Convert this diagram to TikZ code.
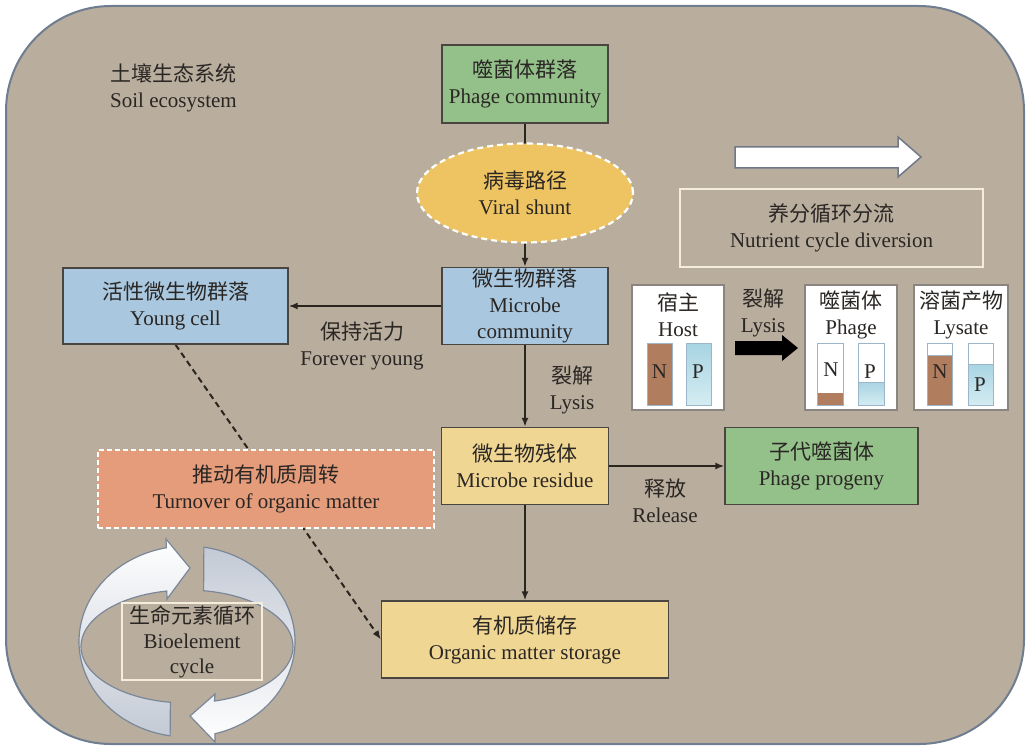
\documentclass[tikz,border=0pt]{standalone}
\usepackage{fontspec}
\setmainfont{Liberation Serif}
\newfontfamily\cjk{Noto Sans CJK SC}
\usetikzlibrary{shapes.geometric,arrows.meta}
\newcommand\zhtxt[1]{{\cjk #1}}
\definecolor{bgc}{HTML}{B9AD9D}
\definecolor{bgborder}{HTML}{6E7D90}
\definecolor{txt}{HTML}{2A2624}
\definecolor{bordc}{HTML}{4A4540}
\definecolor{linec}{HTML}{2B2520}
\definecolor{greenc}{HTML}{94C08A}
\definecolor{bluec}{HTML}{A9C8DF}
\definecolor{yellowc}{HTML}{F0D693}
\definecolor{salmonc}{HTML}{E49C7A}
\definecolor{ellc}{HTML}{EEC462}
\definecolor{creamc}{HTML}{F5EEDC}
\definecolor{brownc}{HTML}{B07E5E}
\definecolor{barblue}{HTML}{A8D4E2}
\definecolor{barblue2}{HTML}{D4ECF2}
\definecolor{barb}{HTML}{9DB5C8}
\definecolor{panelb}{HTML}{8A8580}
\definecolor{cycc}{HTML}{C3CAD5}
\definecolor{cycb}{HTML}{7A8799}
\definecolor{warrow}{HTML}{707888}
\pgfdeclarelayer{back}
\pgfdeclarelayer{lines}
\pgfsetlayers{back,lines,main}
\begin{document}
\begin{tikzpicture}[x=1pt,y=-1pt,
  font=\fontsize{21}{26}\selectfont, text=txt,
  box/.style={draw=bordc, line width=1.3pt, align=center, inner sep=0pt},
  conn/.style={draw=linec, line width=1.8pt, -{Latex[length=9pt,width=7pt]}},
  lbl/.style={align=center, inner sep=0pt},
  panel/.style={draw=panelb, line width=1.8pt, fill=white},
  barframe/.style={draw=barb, line width=1pt},
  blueshade/.style={top color=barblue, bottom color=barblue2}]
\useasboundingbox (0,0) rectangle (1027,746);
\begin{pgfonlayer}{back}
  \draw[fill=bgc, draw=bgborder, line width=2pt, rounded corners=105pt] (6,6) rectangle (1024,744);
\end{pgfonlayer}

% title
\node[lbl, align=left, anchor=west] (soil) at (110,88) {\zhtxt{土壤生态系统}\\Soil ecosystem};

% main nodes
\node[box, fill=greenc, minimum width=166pt, minimum height=78pt] (phage) at (525,84) {\zhtxt{噬菌体群落}\\Phage community};
\node[ellipse, draw=white, dashed, dash pattern=on 6pt off 4pt, line width=2.2pt, fill=ellc, minimum width=216pt, minimum height=99pt, align=center, inner sep=0pt] (viral) at (525,193) {\zhtxt{病毒路径}\\Viral shunt};
\node[box, fill=bluec, minimum width=166pt, minimum height=77pt] (microbe) at (525,306) {\zhtxt{微生物群落}\\Microbe\\community};
\node[box, fill=bluec, minimum width=225pt, minimum height=76pt] (young) at (175.5,306) {\zhtxt{活性微生物群落}\\Young cell};
\node[box, fill=yellowc, minimum width=167pt, minimum height=77pt] (residue) at (525,466) {\zhtxt{微生物残体}\\Microbe residue};
\node[box, fill=greenc, minimum width=193pt, minimum height=77pt] (progeny) at (821.5,466) {\zhtxt{子代噬菌体}\\Phage progeny};
\node[box, draw=white, dashed, dash pattern=on 5pt off 3pt, line width=2pt, fill=salmonc, minimum width=336pt, minimum height=78pt] (turnover) at (266,489) {\zhtxt{推动有机质周转}\\Turnover of organic matter};
\node[box, fill=yellowc, minimum width=287pt, minimum height=77pt] (storage) at (525,639.5) {\zhtxt{有机质储存}\\Organic matter storage};

% labels
\node[lbl] (forever) at (362,346) {\zhtxt{保持活力}\\Forever young};
\node[lbl] (lysis) at (572,390) {\zhtxt{裂解}\\Lysis};
\node[lbl] (release) at (665,500.5) {\zhtxt{释放}\\Release};

% connectors
\begin{pgfonlayer}{lines}
  \draw[conn] (phage.south) -- (microbe.north);
  \draw[conn] (microbe.west) -- (young.east);
  \draw[conn] (microbe.south) -- (residue.north);
  \draw[conn] (residue.east) -- (progeny.west);
  \draw[conn] (residue.south) -- (storage.north);
  \draw[conn, dash pattern=on 6pt off 4pt, line width=2pt] (young.south) -- (storage.west);
\end{pgfonlayer}

% nutrient cycle diversion
\draw[fill=white, draw=warrow, line width=1.5pt] (735,147) -- (898,147) -- (898,137) -- (921,157) -- (898,177) -- (898,168) -- (735,168) -- cycle;
\node[box, draw=creamc, line width=2pt, minimum width=303pt, minimum height=78pt] (nutrient) at (831.5,228) {\zhtxt{养分循环分流}\\Nutrient cycle diversion};

% lysis panel
\draw[panel] (632,285) rectangle (724,410);
\draw[panel] (805,285) rectangle (897,410);
\draw[panel] (914,285) rectangle (1008,410);
\node[lbl] (host) at (678,314.5) {\zhtxt{宿主}\\Host};
\node[lbl] (phg) at (851,314.5) {\zhtxt{噬菌体}\\Phage};
\node[lbl] (lysate) at (961,314.5) {\zhtxt{溶菌产物}\\Lysate};
\node[lbl] (lysis2) at (763,312.5) {\zhtxt{裂解}\\Lysis};
\fill[black] (735,341) -- (782,341) -- (782,335) -- (798,348) -- (782,361) -- (782,355) -- (735,355) -- cycle;
% host bars
\fill[brownc] (647,343) rectangle (672,405);
\draw[barframe] (647,343) rectangle (672,405);
\shade[blueshade] (686,343) rectangle (711,405);
\draw[barframe] (686,343) rectangle (711,405);
% phage bars
\fill[white] (817,343) rectangle (843,405);
\fill[brownc] (817,393) rectangle (843,405);
\draw[barframe] (817,343) rectangle (843,405);
\fill[white] (858,343) rectangle (884,405);
\shade[blueshade] (858,382) rectangle (884,405);
\draw[barframe] (858,343) rectangle (884,405);
\draw[barb, line width=1pt] (858,382) -- (884,382);
% lysate bars
\fill[white] (927,343) rectangle (952,405);
\fill[brownc] (927,355) rectangle (952,405);
\draw[barframe] (927,343) rectangle (952,405);
\draw[barb, line width=1pt] (927,355) -- (952,355);
\fill[white] (968,343) rectangle (993,405);
\shade[blueshade] (968,364) rectangle (993,405);
\draw[barframe] (968,343) rectangle (993,405);
\draw[barb, line width=1pt] (968,364) -- (993,364);
\node[lbl] at (659.5,372) {N};
\node[lbl] at (698,372) {P};
\node[lbl] at (831,370) {N};
\node[lbl] at (870,372) {P};
\node[lbl] at (940,372) {N};
\node[lbl] at (980,385) {P};

% bioelement cycle
\draw[top color=white, bottom color=cycc, draw=cycb, line width=1.2pt]
  plot[smooth, domain=99:259, samples=40] ({187+108*cos(\x)},{641.5+95.5*sin(\x)})
  -- (166,539) -- (190,568) -- (167,599)
  -- plot[smooth, domain=259:99, samples=40] ({187+106*cos(\x)},{646.5+56.5*sin(\x)}) -- cycle;
\draw[top color=cycc, bottom color=white, draw=cycb, line width=1.2pt]
  plot[smooth, domain=279:435, samples=40] ({187+108*cos(\x)},{641.5+95.5*sin(\x)})
  -- (215,742) -- (190,716) -- (215,694)
  -- plot[smooth, domain=435:279, samples=40] ({187+106*cos(\x)},{646.5+56.5*sin(\x)}) -- cycle;
\node[box, draw=creamc, line width=1.5pt, minimum width=140pt, minimum height=77pt, font=\fontsize{21}{25}\selectfont] (bio) at (192,641.5) {\zhtxt{生命元素循环}\\Bioelement\\cycle};
\end{tikzpicture}
\end{document}
